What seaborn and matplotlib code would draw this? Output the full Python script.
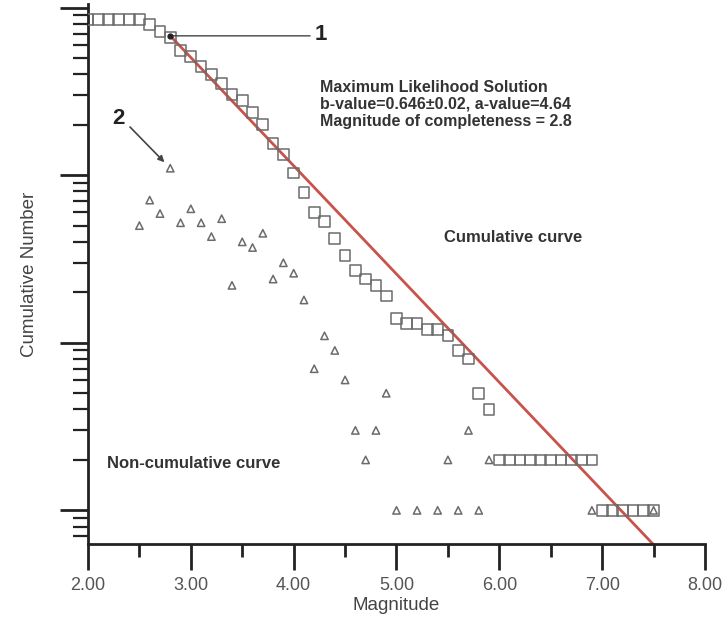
import numpy as np
import pandas as pd
import matplotlib
matplotlib.use("Agg")
import matplotlib.pyplot as plt
import seaborn as sns

# ---- data ----
cum_mag = [2.0, 2.1, 2.2, 2.3, 2.4, 2.5, 2.6, 2.7, 2.8, 2.9, 3.0, 3.1, 3.2, 3.3, 3.4,
           3.5, 3.6, 3.7, 3.8, 3.9, 4.0, 4.1, 4.2, 4.3, 4.4, 4.5, 4.6, 4.7, 4.8, 4.9,
           5.0, 5.1, 5.2, 5.3, 5.4, 5.5, 5.6, 5.7, 5.8, 5.9, 6.0, 6.1, 6.2, 6.3, 6.4,
           6.5, 6.6, 6.7, 6.8, 6.9, 7.0, 7.1, 7.2, 7.3, 7.4, 7.5]
cum_count = [850, 850, 850, 850, 850, 850, 792, 720, 663, 555, 511, 445, 399, 353, 304,
             279, 237, 201, 155, 133, 103, 79, 60, 53, 42, 33, 27, 24, 22, 19,
             14, 13, 13, 12, 12, 11, 9, 8, 5, 4, 2, 2, 2, 2, 2,
             2, 2, 2, 2, 2, 1, 1, 1, 1, 1, 1]

noncum_mag = [2.5, 2.6, 2.7, 2.8, 2.9, 3.0, 3.1, 3.2, 3.3, 3.4, 3.5, 3.6, 3.7, 3.8,
              3.9, 4.0, 4.1, 4.2, 4.3, 4.4, 4.5, 4.6, 4.7, 4.8, 4.9, 5.0, 5.2, 5.4,
              5.5, 5.6, 5.7, 5.8, 5.9, 6.9, 7.5]
noncum_count = [50, 71, 59, 110, 52, 63, 52, 43, 55, 22, 40, 37, 45, 24,
                30, 26, 18, 7, 11, 9, 6, 3, 2, 3, 5, 1, 1, 1,
                2, 1, 3, 1, 2, 1, 1]

a_value = 4.64
b_value = 0.646
mc = 2.8
fit_mag = [2.8, 7.6]

x_ticks = [2.0, 3.0, 4.0, 5.0, 6.0, 7.0, 8.0]
x_tick_labels = ["2.00", "3.00", "4.00", "5.00", "6.00", "7.00", "8.00"]

info_lines = ["Maximum Likelihood Solution",
              "b-value=0.646\u00b10.02, a-value=4.64",
              "Magnitude of completeness = 2.8"]

# ---- styling ----
sns.set_style("ticks")
plt.rcParams['font.family'] = ['Liberation Sans', 'DejaVu Sans']

W, H = 722, 618
fig = plt.figure(figsize=(W / 100, H / 100), dpi=100)
ax = fig.add_axes([88 / W, 1 - 544 / H, (705 - 88) / W, (544 - 4) / H])


def fp(x, y):
    return (x / W, 1 - y / H)


cum_df = pd.DataFrame({"Magnitude": cum_mag, "N": cum_count})
non_df = pd.DataFrame({"Magnitude": noncum_mag, "N": noncum_count})
fit_df = pd.DataFrame({"Magnitude": fit_mag})
fit_df["N"] = 10 ** (a_value - b_value * fit_df["Magnitude"])

grey = "#6b6b6b"
sns.lineplot(data=fit_df, x="Magnitude", y="N", ax=ax, color="#c9524a",
             linewidth=2.0, zorder=2)
sns.scatterplot(data=cum_df, x="Magnitude", y="N", ax=ax, marker="s", s=60,
                facecolor="none", edgecolor=grey, linewidth=1.1, zorder=3)
sns.scatterplot(data=non_df, x="Magnitude", y="N", ax=ax, marker="^", s=28,
                facecolor="none", edgecolor=grey, linewidth=1.1, zorder=3)

ax.set_yscale("log")
ax.set_xlim(2.0, 8.0)
ax.set_ylim(0.63, 1050)
ax.set_xticks(x_ticks)
ax.set_xticklabels(x_tick_labels)
ax.set_xticks(np.arange(2.5, 8.0, 1.0), minor=True)
ax.yaxis.set_major_locator(matplotlib.ticker.LogLocator(base=10, numticks=10))
ax.yaxis.set_minor_locator(matplotlib.ticker.LogLocator(base=10, subs=np.arange(2, 10), numticks=20))
ax.yaxis.set_major_formatter(matplotlib.ticker.NullFormatter())
ax.yaxis.set_minor_formatter(matplotlib.ticker.NullFormatter())

sns.despine(ax=ax)
for sp in ["left", "bottom"]:
    ax.spines[sp].set_linewidth(2.0)
    ax.spines[sp].set_color("#222222")
ax.tick_params(axis="x", which="major", length=19, width=2.0, color="#222222",
               labelsize=13, labelcolor="#555555", pad=5)
ax.tick_params(axis="x", which="minor", length=9, width=2.0, color="#222222")
ax.tick_params(axis="y", which="major", length=20, width=2.0, color="#222222")
ax.tick_params(axis="y", which="minor", length=11, width=1.6, color="#222222")

ax.set_xlabel("Magnitude", fontsize=13.5, color="#444444", labelpad=2)
ax.set_ylabel("Cumulative Number", fontsize=13.5, color="#444444")
ax.yaxis.set_label_coords((38 - 88) / (705 - 88), 0.5)

txt_col = "#333333"
for i, line in enumerate(info_lines):
    fig.text(*fp(320, 87 + 17 * i), line, fontsize=11.5, fontweight="bold",
             color=txt_col, va="center", ha="left")
fig.text(*fp(444, 237), "Cumulative curve", fontsize=12, fontweight="bold",
         color=txt_col, va="center", ha="left")
fig.text(*fp(107, 464), "Non-cumulative curve", fontsize=12, fontweight="bold",
         color=txt_col, va="center", ha="left")

# annotation 1 : completeness point on the fit line
y_mc = 10 ** (a_value - b_value * mc)
ax.annotate("", xy=(mc, y_mc), xytext=((310 - 88) / 102.8 + 2.0, y_mc),
            arrowprops=dict(arrowstyle="-", color="#444444", lw=1.0,
                            shrinkA=0, shrinkB=0))
ax.plot([mc], [y_mc], marker="o", markersize=3.5, color="#222222", zorder=4)
fig.text(*fp(315, 34), "1", fontsize=16, fontweight="bold", color="#222222",
         va="center", ha="left")

# annotation 2 : arrow to the triangle at Mc
ax.annotate("", xy=(2.8, 110), xytext=fp(130, 127), textcoords="figure fraction",
            arrowprops=dict(arrowstyle="-|>", color="#444444", lw=1.2,
                            mutation_scale=9, shrinkA=0, shrinkB=6))
fig.text(*fp(118, 118), "2", fontsize=16, fontweight="bold", color="#222222",
         va="center", ha="center")

fig.savefig("out.png", dpi=100)
